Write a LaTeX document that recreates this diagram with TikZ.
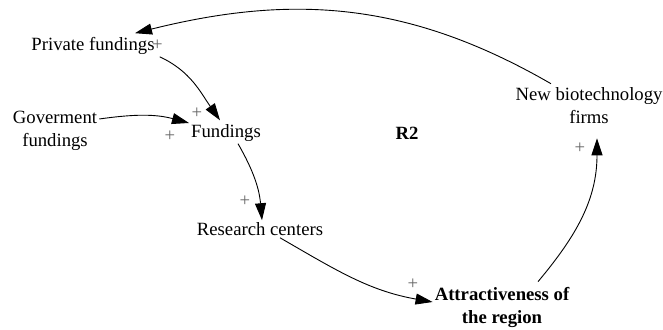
\documentclass[tikz,border=0pt]{standalone}
\usepackage{fontspec}
\setmainfont{Liberation Serif}
\usetikzlibrary{arrows.meta}
\tikzset{
  var/.style={inner sep=2pt, align=center, font=\fontsize{18.7}{23}\selectfont},
  varb/.style={var, font=\fontsize{18.7}{23}\selectfont\bfseries},
  pol/.style={inner sep=0pt, text=black!60, font=\fontsize{18.7}{23}\selectfont},
  link/.style={line width=0.9pt, -{Triangle[length=17pt,width=11pt]}},
}
\begin{document}
\begin{tikzpicture}[x=1pt,y=1pt]
  \useasboundingbox (0,0) rectangle (663,329);

  % variables
  \node[var] (pf) at (93,283) {Private fundings};
  \node[var] (gf) at (55,198) {Goverment\\fundings};
  \node[var] (fu) at (226,196) {Fundings};
  \node[var] (rc) at (260,100) {Research centers};
  \node[varb] (ar) at (502,22) {Attractiveness of\\the region};
  \node[var] (nb) at (589,223) {New biotechnology\\firms};
  \node[varb] (r2) at (407,196) {R2};

  % polarities
  \node[pol] (p1) at (157.5,284) {+};
  \node[pol] (p2) at (197,216) {+};
  \node[pol] (p3) at (170,193) {+};
  \node[pol] (p4) at (245,128) {+};
  \node[pol] (p5) at (413,45) {+};
  \node[pol] (p6) at (580,181) {+};

  % links
  \draw[link] ([xshift=3pt]pf.south east) to[out=-25,in=125] ([xshift=-6pt,yshift=2pt]fu.north);
  \draw[link] ([yshift=12pt]gf.east) to[out=8,in=165] ([yshift=10pt]fu.west);
  \draw[link] ([xshift=12pt]fu.south) to[out=-60,in=95] ([xshift=2pt]rc.north);
  \draw[link] ([xshift=20pt]rc.south) to[out=-30,in=170] ([yshift=5pt]ar.west);
  \draw[link] ([xshift=36pt,yshift=3pt]ar.north) to[out=50,in=-90] ([xshift=8pt,yshift=-12pt]nb.south);
  \draw[link] ([xshift=-38pt,yshift=2pt]nb.north) to[out=150,in=14] ([xshift=42pt,yshift=2pt]pf.north);
\end{tikzpicture}
\end{document}
